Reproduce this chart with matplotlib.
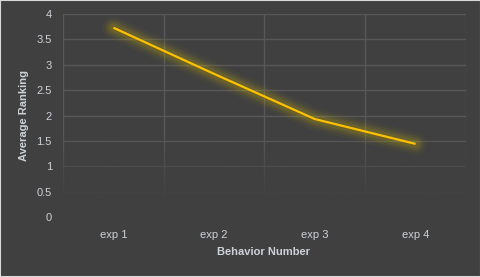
import numpy as np
import matplotlib
matplotlib.use("Agg")
import matplotlib.pyplot as plt
from matplotlib.patches import Rectangle

categories = ["exp 1", "exp 2", "exp 3", "exp 4"]
values = [3.73, 2.82, 1.93, 1.44]
yticks = [0, 0.5, 1, 1.5, 2, 2.5, 3, 3.5, 4]
ytick_labels = ["0", "0.5", "1", "1.5", "2", "2.5", "3", "3.5", "4"]

bg = "#404040"
txt = "#CDD2D9"
grid_c = "#585858"
line_c = "#FFC000"

plt.rcParams['font.family'] = ['Liberation Sans Narrow', 'Liberation Sans', 'DejaVu Sans']

fig = plt.figure(figsize=(4.81, 2.77), dpi=100)
fig.patch.set_facecolor(bg)
ax = fig.add_axes([63/481, 1-217/277, (466-63)/481, (217-14)/277])
ax.set_facecolor(bg)

x = np.arange(len(categories))

# gridlines
for yv in yticks:
    ax.axhline(yv, color=grid_c, lw=1, zorder=0.5)
for xb in np.arange(-0.5, len(categories), 1.0):
    ax.axvline(xb, color=grid_c, lw=1, zorder=0.5)

# fading overlay at bottom
grad = np.zeros((200, 1, 4))
yy = np.linspace(0, 4, 200)
alpha = np.clip((1.6 - yy) / (1.6 - 0.35), 0, 1)
rgb = matplotlib.colors.to_rgb(bg)
grad[:, 0, 0] = rgb[0]; grad[:, 0, 1] = rgb[1]; grad[:, 0, 2] = rgb[2]
grad[:, 0, 3] = alpha
ax.imshow(grad, extent=(-0.6, len(categories) - 0.4, 0, 4), origin='lower',
          aspect='auto', zorder=1, interpolation='bilinear')
ax.set_xlim(-0.5, len(categories) - 0.5)
ax.set_ylim(0, 4)

# glow
for lw, a in [(16, 0.04), (12, 0.06), (9, 0.08), (6, 0.11)]:
    ax.plot(x, values, color="#E0C800", lw=lw, alpha=a, solid_capstyle='round',
            solid_joinstyle='round', zorder=2)
ax.plot(x, values, color=line_c, lw=1.6, solid_capstyle='butt', zorder=3)

for s in ax.spines.values():
    s.set_visible(False)
ax.set_xticks(x)
ax.set_xticklabels(categories)
ax.set_yticks(yticks)
ax.set_yticklabels(ytick_labels)
ax.tick_params(length=0, colors=txt, labelsize=8)
ax.tick_params(axis='x', pad=9)
ax.tick_params(axis='y', pad=8)

fig.text(263.5/481, 1-252/277, "Behavior Number", color=txt, fontsize=8,
         fontweight='bold', ha='center', va='center')
fig.text(24/481, 1-115.5/277, "Average Ranking", color=txt, fontsize=8,
         fontweight='bold', ha='center', va='center', rotation=90)

fig.patches.append(Rectangle((0, 0), 1, 1, transform=fig.transFigure,
                             fill=False, edgecolor="#D9D9D9", lw=1.5))

fig.savefig("out.png", dpi=100, facecolor=bg)
